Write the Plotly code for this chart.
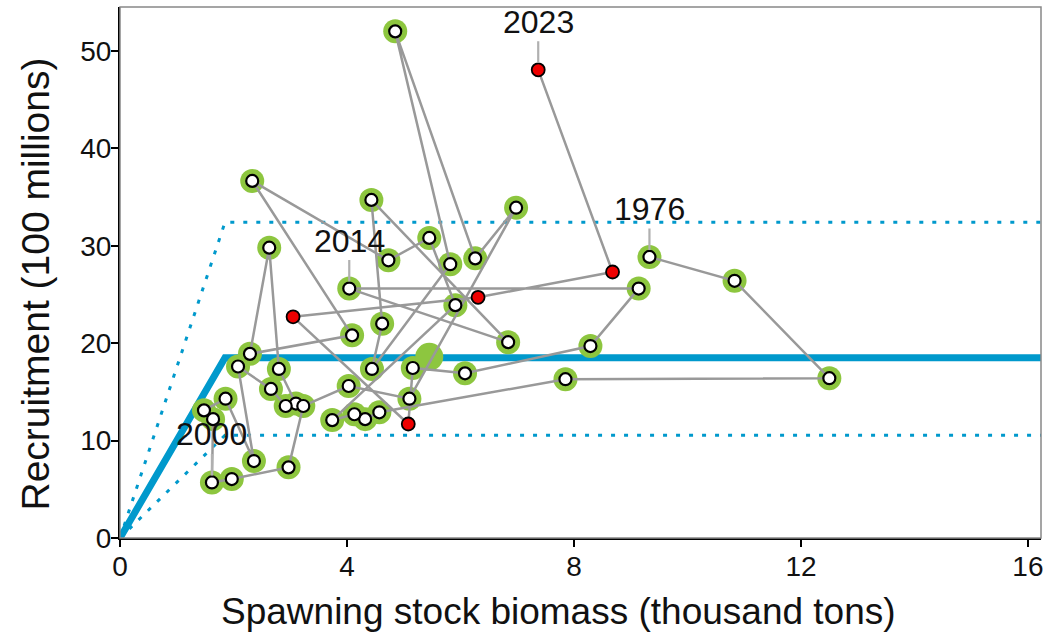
import plotly.graph_objects as go

# ---- data ----
years = list(range(1976, 2024))
ssb = [9.33, 10.83, 12.50, 7.85, 4.57, 4.32, 4.13, 3.74, 5.91, 5.45,
       4.73, 2.33, 4.09, 2.29, 2.63, 2.80, 3.10, 2.92, 2.66, 2.08,
       2.36, 1.86, 1.48, 1.64, 1.62, 1.97, 2.97, 3.23, 4.03, 5.10,
       6.98, 6.26, 4.85, 5.82, 4.44, 4.62, 4.43, 6.84, 4.04, 9.14,
       8.29, 6.08, 5.16, 5.08, 3.05, 6.31, 8.68, 7.37]
rec = [28.85, 26.4, 16.4, 16.3, 12.9, 12.2, 12.7, 12.1, 23.9, 30.8,
       28.5, 36.65, 20.8, 18.9, 29.8, 17.35, 13.8, 13.55, 15.3, 17.6,
       7.9, 14.3, 13.1, 12.2, 5.7, 6.05, 7.25, 13.55, 15.6, 14.3,
       33.9, 28.7, 52.0, 28.1, 17.35, 22.0, 34.7, 20.1, 25.6, 25.6,
       19.7, 16.9, 17.45, 11.7, 22.7, 24.7, 27.3, 48.05]
recent_years = [2019, 2020, 2021, 2022, 2023]
label_years = [1976, 2000, 2014, 2023]

# hockey-stick reference lines
hs_x = [0, 1.85, 16.5]
hs_mid = [0, 18.5, 18.5]
hs_up = [0, 32.4, 32.4]
hs_lo = [0, 10.55, 10.55]
cur_ssb, cur_rec = 5.45, 18.6

BLUE = "#0099CC"
GREEN = "#8DC63F"
GRAY = "#999999"
FONT = "Liberation Sans, Arial, sans-serif"
TXT = "#111111"

fig = go.Figure()
for yy, w, d in [(hs_up, 3, "4px,9px"), (hs_lo, 3, "4px,9px"), (hs_mid, 7, "solid")]:
    fig.add_trace(go.Scatter(x=hs_x, y=yy, mode="lines",
                             line=dict(color=BLUE, width=w, dash=d),
                             hoverinfo="skip", showlegend=False))

old_x = [x for x, yr in zip(ssb, years) if yr not in recent_years]
old_y = [y for y, yr in zip(rec, years) if yr not in recent_years]
new_x = [x for x, yr in zip(ssb, years) if yr in recent_years]
new_y = [y for y, yr in zip(rec, years) if yr in recent_years]

fig.add_trace(go.Scatter(x=old_x, y=old_y, mode="markers",
                         marker=dict(size=24, color=GREEN, line=dict(width=0)),
                         hoverinfo="skip", showlegend=False))
fig.add_trace(go.Scatter(x=[cur_ssb], y=[cur_rec], mode="markers",
                         marker=dict(size=28, color=GREEN, line=dict(width=0)),
                         hoverinfo="skip", showlegend=False))
fig.add_trace(go.Scatter(x=ssb, y=rec, mode="lines",
                         line=dict(color=GRAY, width=2.5),
                         hoverinfo="skip", showlegend=False))
fig.add_trace(go.Scatter(x=old_x, y=old_y, mode="markers",
                         marker=dict(size=12, color="white", line=dict(width=2.2, color="black")),
                         showlegend=False))
fig.add_trace(go.Scatter(x=new_x, y=new_y, mode="markers",
                         marker=dict(size=13, color="#EE0000", line=dict(width=1.8, color="black")),
                         showlegend=False))

for yr in label_years:
    i = years.index(yr)
    fig.add_annotation(x=ssb[i], y=rec[i], text=str(yr), showarrow=True,
                       ax=0, ay=-48, arrowhead=0, arrowwidth=2.2,
                       arrowcolor="#B0B0B0", standoff=7,
                       font=dict(size=32, color=TXT, family=FONT))

# axis titles as paper annotations for exact placement
fig.add_annotation(xref="paper", yref="paper", x=0, y=0.5, xshift=-85, yshift=-12,
                   text="Recruitment (100 millions)", textangle=-90, showarrow=False,
                   xanchor="center", yanchor="middle",
                   font=dict(size=39, family=FONT, color=TXT))
fig.add_annotation(xref="paper", yref="paper", x=0.5, y=0, xshift=-22, yshift=-73,
                   text="Spawning stock biomass (thousand tons)", showarrow=False,
                   xanchor="center", yanchor="middle",
                   font=dict(size=37, family=FONT, color=TXT))

fig.update_layout(
    width=1046, height=640, autosize=False,
    margin=dict(l=120, r=5, t=7, b=102),
    paper_bgcolor="white", plot_bgcolor="white",
    font=dict(family=FONT, color=TXT),
    shapes=[dict(type="rect", xref="paper", yref="paper", x0=0, y0=0, x1=1, y1=1,
                 line=dict(color="#888888", width=1.5), layer="above")],
)
fig.update_xaxes(range=[0, 16.23], tickvals=[0, 4, 8, 12, 16], ticks="outside",
                 ticklen=7, tickwidth=1.5, tickcolor="black", ticklabelstandoff=-5,
                 showline=True, linecolor="black", linewidth=2, mirror=False,
                 showgrid=False, zeroline=False, automargin=False,
                 tickfont=dict(size=28, family=FONT, color=TXT))
fig.update_yaxes(range=[0, 54.5], tickvals=[0, 10, 20, 30, 40, 50], ticks="outside",
                 ticklen=7, tickwidth=1.5, tickcolor="black", ticklabelstandoff=-6,
                 showline=True, linecolor="black", linewidth=2, mirror=False,
                 showgrid=False, zeroline=False, automargin=False,
                 tickfont=dict(size=28, family=FONT, color=TXT))

fig.write_html("out.html",
               config={"displayModeBar": False},
               post_script="document.body.style.margin='0px';"
                           "document.documentElement.style.overflow='hidden';")
